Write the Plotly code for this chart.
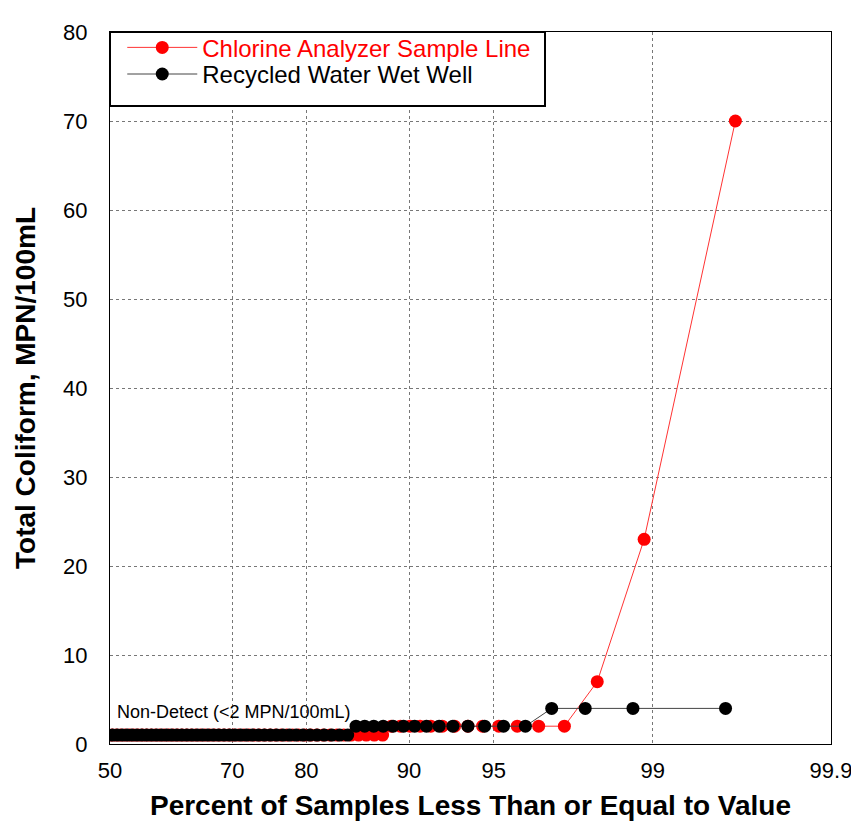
import plotly.graph_objects as go
from statistics import NormalDist

# Sorted sample values and their counts
red_values = [1, 2, 7, 23, 70]
red_counts = [120, 13, 1, 1, 1]
black_values = [1, 2, 4]
black_counts = [102, 14, 4]

tick_pcts = [50, 70, 80, 90, 95, 99, 99.9]
tick_labels = ["50", "70", "80", "90", "95", "99", "99.9"]

nd = NormalDist()

def probit(p):
    return nd.inv_cdf(p / 100.0)

def expand(values, counts):
    ys = []
    for v, c in zip(values, counts):
        ys += [v] * c
    n = len(ys)
    xs = [probit(100.0 * (i - 0.5) / n) for i in range(1, n + 1)]
    return xs, ys

rx, ry = expand(red_values, red_counts)
bx, by = expand(black_values, black_counts)

FONT = "Liberation Sans, Arial, sans-serif"

fig = go.Figure()
fig.add_trace(go.Scatter(
    x=rx, y=ry, mode="lines+markers",
    name="<span style='color:#ff0000'>Chlorine Analyzer Sample Line</span>",
    line=dict(color="#ff3333", width=1),
    marker=dict(color="#ff0000", size=13),
    legend="legend",
))
fig.add_trace(go.Scatter(
    x=bx, y=by, mode="lines+markers",
    name="Recycled Water Wet Well",
    line=dict(color="#444444", width=1),
    marker=dict(color="#000000", size=13),
    legend="legend2",
))

xmax = probit(99.9)
fig.update_xaxes(
    range=[0, xmax],
    tickvals=[probit(p) for p in tick_pcts], ticktext=tick_labels,
    tickfont=dict(size=22, color="black", family=FONT),
    ticks="", ticklabelstandoff=7,
    showgrid=True, gridcolor="#777777", griddash="dot", gridwidth=1,
    showline=True, linecolor="black", linewidth=1, mirror=True,
    zeroline=False,
    title=dict(text="<b>Percent of Samples Less Than or Equal to Value</b>",
               font=dict(size=28, color="black", family=FONT), standoff=12),
)
fig.update_yaxes(
    range=[0, 80], tickvals=list(range(0, 81, 10)),
    tickfont=dict(size=22, color="black", family=FONT),
    ticks="", ticklabelstandoff=17,
    showgrid=True, gridcolor="#777777", griddash="dot", gridwidth=1,
    showline=True, linecolor="black", linewidth=1, mirror=True,
    zeroline=False,
    title=dict(text="<b>Total Coliform, MPN/100mL</b>",
               font=dict(size=28, color="black", family=FONT), standoff=19),
)

fig.add_annotation(
    x=probit(50.8), y=3.6, xref="x", yref="y",
    text="Non-Detect (<2 MPN/100mL)", showarrow=False,
    xanchor="left", yanchor="middle",
    font=dict(size=18, color="black", family=FONT),
)

# legend box
fig.add_shape(type="rect", xref="paper", yref="paper",
              x0=0, x1=435 / 721, y0=1 - 75 / 722, y1=1,
              line=dict(color="black", width=2), fillcolor="white", layer="above")

leg_common = dict(xanchor="left", yanchor="middle",
                  bgcolor="rgba(0,0,0,0)", borderwidth=0,
                  font=dict(size=24, color="black", family=FONT),
                  itemwidth=70, tracegroupgap=0)

fig.update_layout(
    width=859, height=825,
    margin=dict(l=102, r=36, t=14, b=89),
    paper_bgcolor="white", plot_bgcolor="white",
    font=dict(family=FONT, color="black"),
    showlegend=True,
    legend=dict(x=0.017, y=1 - 16 / 722, **leg_common),
    legend2=dict(x=0.017, y=1 - 43 / 722, **leg_common),
)

fig.write_html("out.html")
